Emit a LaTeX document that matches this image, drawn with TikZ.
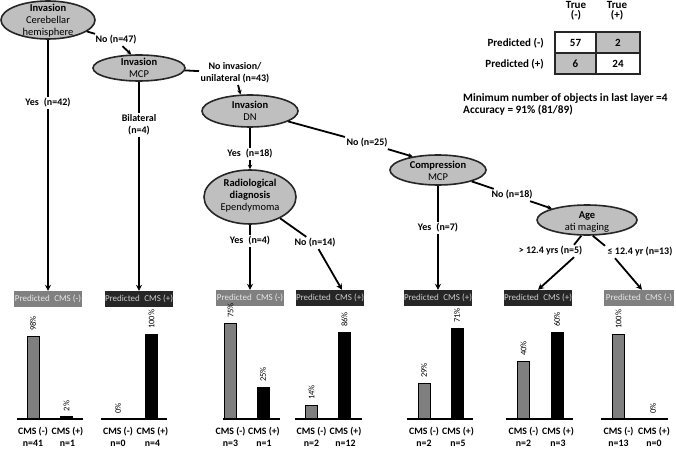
\documentclass[tikz,border=0pt]{standalone}
\usepackage{fontspec}
\setmainfont{Carlito}
\usetikzlibrary{shapes.geometric,arrows.meta}
\definecolor{ellfill}{HTML}{BFBFBF}
\definecolor{negbar}{HTML}{7F7F7F}
\definecolor{boxneg}{HTML}{808080}
\definecolor{boxpos}{HTML}{262626}
\definecolor{boxtxtneg}{HTML}{E8E8E8}
\definecolor{boxtxtpos}{HTML}{CFCFCF}
\definecolor{cellgray}{HTML}{BFBFBF}
\begin{document}
\begin{tikzpicture}[x=1pt,y=-1pt,
  ell/.style={draw=black!85, line width=1.6pt, fill=ellfill, ellipse, inner sep=0pt},
  etxt/.style={align=center, inner sep=0pt, font=\fontsize{10.5}{12}\selectfont},
  lbl/.style={align=center, inner sep=1.5pt, font=\fontsize{10}{12}\selectfont\bfseries},
  conn/.style={line width=1.8pt, black},
  bigtip/.style={-{Stealth[length=6pt,width=6pt]}},
  smalltip/.style={-{Stealth[length=4.5pt,width=4.5pt]}},
  pbox/.style={minimum width=68pt, minimum height=16pt, inner sep=0pt, font=\fontsize{9}{10}\selectfont},
  pneg/.style={pbox, fill=boxneg, text=boxtxtneg},
  ppos/.style={pbox, fill=boxpos, text=boxtxtpos},
  barneg/.style={fill=negbar, draw=black, line width=0.8pt},
  barpos/.style={fill=black, draw=black, line width=0.8pt},
  pct/.style={rotate=90, anchor=west, inner sep=1pt, font=\fontsize{8.5}{9}\selectfont},
  blab/.style={inner sep=0pt, font=\fontsize{9.8}{11}\selectfont\bfseries},
  cell/.style={draw=black!85, line width=1.2pt, inner sep=0pt, minimum height=21pt, font=\fontsize{11}{12}\selectfont\bfseries},
  mtxt/.style={inner sep=0pt, align=center, font=\fontsize{11}{10}\selectfont\bfseries},
  note/.style={inner sep=0pt, anchor=west, font=\fontsize{11.3}{12}\selectfont\bfseries}
]
\useasboundingbox (0,0) rectangle (676,449);

% decision ellipses
\node[ell, minimum width=94pt, minimum height=38pt] (e1) at (48,20) {};
\node[etxt] (e1t) at (48,21) {\textbf{Invasion}\\Cerebellar\\hemisphere};
\node[ell, minimum width=92pt, minimum height=26pt] (e2) at (139,68) {};
\node[etxt] (e2t) at (139,68) {\textbf{Invasion}\\MCP};
\node[ell, minimum width=96pt, minimum height=32pt] (e3) at (250,111) {};
\node[etxt] (e3t) at (250,111) {\textbf{Invasion}\\DN};
\node[ell, minimum width=92pt, minimum height=54pt] (e4) at (250,197) {};
\node[etxt] (e4t) at (250,196) {\textbf{Radiological}\\\textbf{diagnosis}\\Ependymoma};
\node[ell, minimum width=96pt, minimum height=30pt] (e5) at (438,170) {};
\node[etxt] (e5t) at (438,171) {\textbf{Compression}\\MCP};
\node[ell, minimum width=100pt, minimum height=30pt] (e6) at (587,220) {};
\node[etxt] (e6t) at (587,222) {\textbf{Age}\\ati maging};

% branch labels
\node[lbl] (l1) at (116,40) {No (n=47)};
\node[lbl] (l2) at (48,103) {Yes\enspace(n=42)};
\node[lbl] (l3) at (139,125) {Bilateral\\(n=4)};
\node[lbl] (l4) at (235,73) {No invasion/\\unilateral (n=43)};
\node[lbl] (l5) at (250,154) {Yes\enspace(n=18)};
\node[lbl] (l6) at (367,143) {No (n=25)};
\node[lbl] (l7) at (250,241) {Yes\enspace(n=4)};
\node[lbl] (l8) at (315,243) {No (n=14)};
\node[lbl] (l9) at (438,228) {Yes\enspace(n=7)};
\node[lbl] (l10) at (512,195) {No (n=18)};
\node[lbl, anchor=east] (l11) at (584,251) {> 12.4 yrs (n=5)};
\node[lbl, anchor=west] (l12) at (606,252) {≤ 12.4 yr (n=13)};

% predicted boxes
\node[pneg] (b1) at (48,299) {Predicted\enspace CMS (-)};
\node[ppos] (b2) at (139,299) {Predicted\enspace CMS (+)};
\node[pneg] (b3) at (250,298) {Predicted\enspace CMS (-)};
\node[ppos] (b4) at (330,298) {Predicted\enspace CMS (+)};
\node[ppos] (b5) at (438,298) {Predicted\enspace CMS (+)};
\node[ppos] (b6) at (538,298) {Predicted\enspace CMS (+)};
\node[pneg, minimum width=70pt] (b7) at (639,298) {Predicted\enspace CMS (-)};

% connectors
\draw[conn] (e1) -- (l1);
\draw[conn, smalltip] (l1) -- (e2.120);
\draw[conn] (e1) -- (l2);
\draw[conn, bigtip] (l2) -- (b1);
\draw[conn] (e2) -- (l3);
\draw[conn, bigtip] (l3) -- (b2);
\draw[conn] (e2) -- (l4);
\draw[conn, smalltip] (l4) -- (e3.120);
\draw[conn] (e3) -- (l5);
\draw[conn, smalltip] (l5) -- (e4);
\draw[conn] (e3) -- (l6);
\draw[conn, smalltip] (l6) -- (e5.152);
\draw[conn] (e4) -- (l7);
\draw[conn, bigtip] (l7) -- (b3);
\draw[conn] (e4) -- (l8);
\draw[conn, bigtip] (l8) -- ([xshift=12pt]b4.north);
\draw[conn] (e5) -- (l9);
\draw[conn, bigtip] (l9) -- (b5);
\draw[conn] (e5) -- (l10);
\draw[conn, smalltip] (l10) -- (e6.162);
\draw[conn] (e6.-110) -- ([xshift=-10pt]l11.north east);
\draw[conn, bigtip] ([xshift=-10pt]l11.south east) -- (b6.north);
\draw[conn] (e6.-70) -- ([xshift=-1pt]l12.north west);
\draw[conn, bigtip] ([xshift=9pt]l12.south west) -- ([xshift=3pt]b7.north);

% bar charts
\foreach \bl/\br/\xa/\xb/\ta/\tb/\pa/\pb/\na/\nb [count=\i] in
  {17/83/33/66.5/336/416.5/98/2/41/1,
   101/167/118/151.5/419/334/0/100/0/4,
   223/280/230.5/263/323/387/75/25/3/1,
   295/362/311.5/344.5/405/332/14/86/2/12,
   407/473/424/457/383/328/29/71/2/5,
   506/573/523.5/557/361/332/40/60/2/3,
   601/668/618.5/653/334/419/100/0/13/0}{
  \draw[barneg] (\xa-6,419) rectangle (\xa+6,\ta);
  \draw[barpos] (\xb-6,419) rectangle (\xb+6,\tb);
  \draw[line width=1.4pt] (\bl,419) -- (\br,419);
  \node[pct] (pa\i) at (\xa,\ta-4) {\pa\%};
  \node[pct] (pb\i) at (\xb,\tb-4) {\pb\%};
  \node[blab] (ca\i) at (\xa,432) {CMS (-)};
  \node[blab] (cb\i) at (\xb+1,432) {CMS (+)};
  \node[blab] (na\i) at (\xa,443) {n=\na};
  \node[blab] (nb\i) at (\xb+1,443) {n=\nb};
}

% confusion matrix
\node[mtxt] (h1) at (576,11) {True\\(-)};
\node[mtxt] (h2) at (617,11) {True\\(+)};
\node[mtxt, anchor=east] (r1) at (544,43) {Predicted (-)};
\node[mtxt, anchor=east] (r2) at (544,64) {Predicted (+)};
\node[cell, fill=white, minimum width=41pt] (c11) at (575.5,42.5) {57};
\node[cell, fill=cellgray, minimum width=44pt] (c12) at (618,42.5) {2};
\node[cell, fill=cellgray, minimum width=41pt] (c21) at (575.5,63.5) {6};
\node[cell, fill=white, minimum width=44pt] (c22) at (618,63.5) {24};

\node[note] (n1) at (463,98) {Minimum number of objects in last layer =4};
\node[note] (n2) at (463,110) {Accuracy = 91\% (81/89)};
\end{tikzpicture}
\end{document}
